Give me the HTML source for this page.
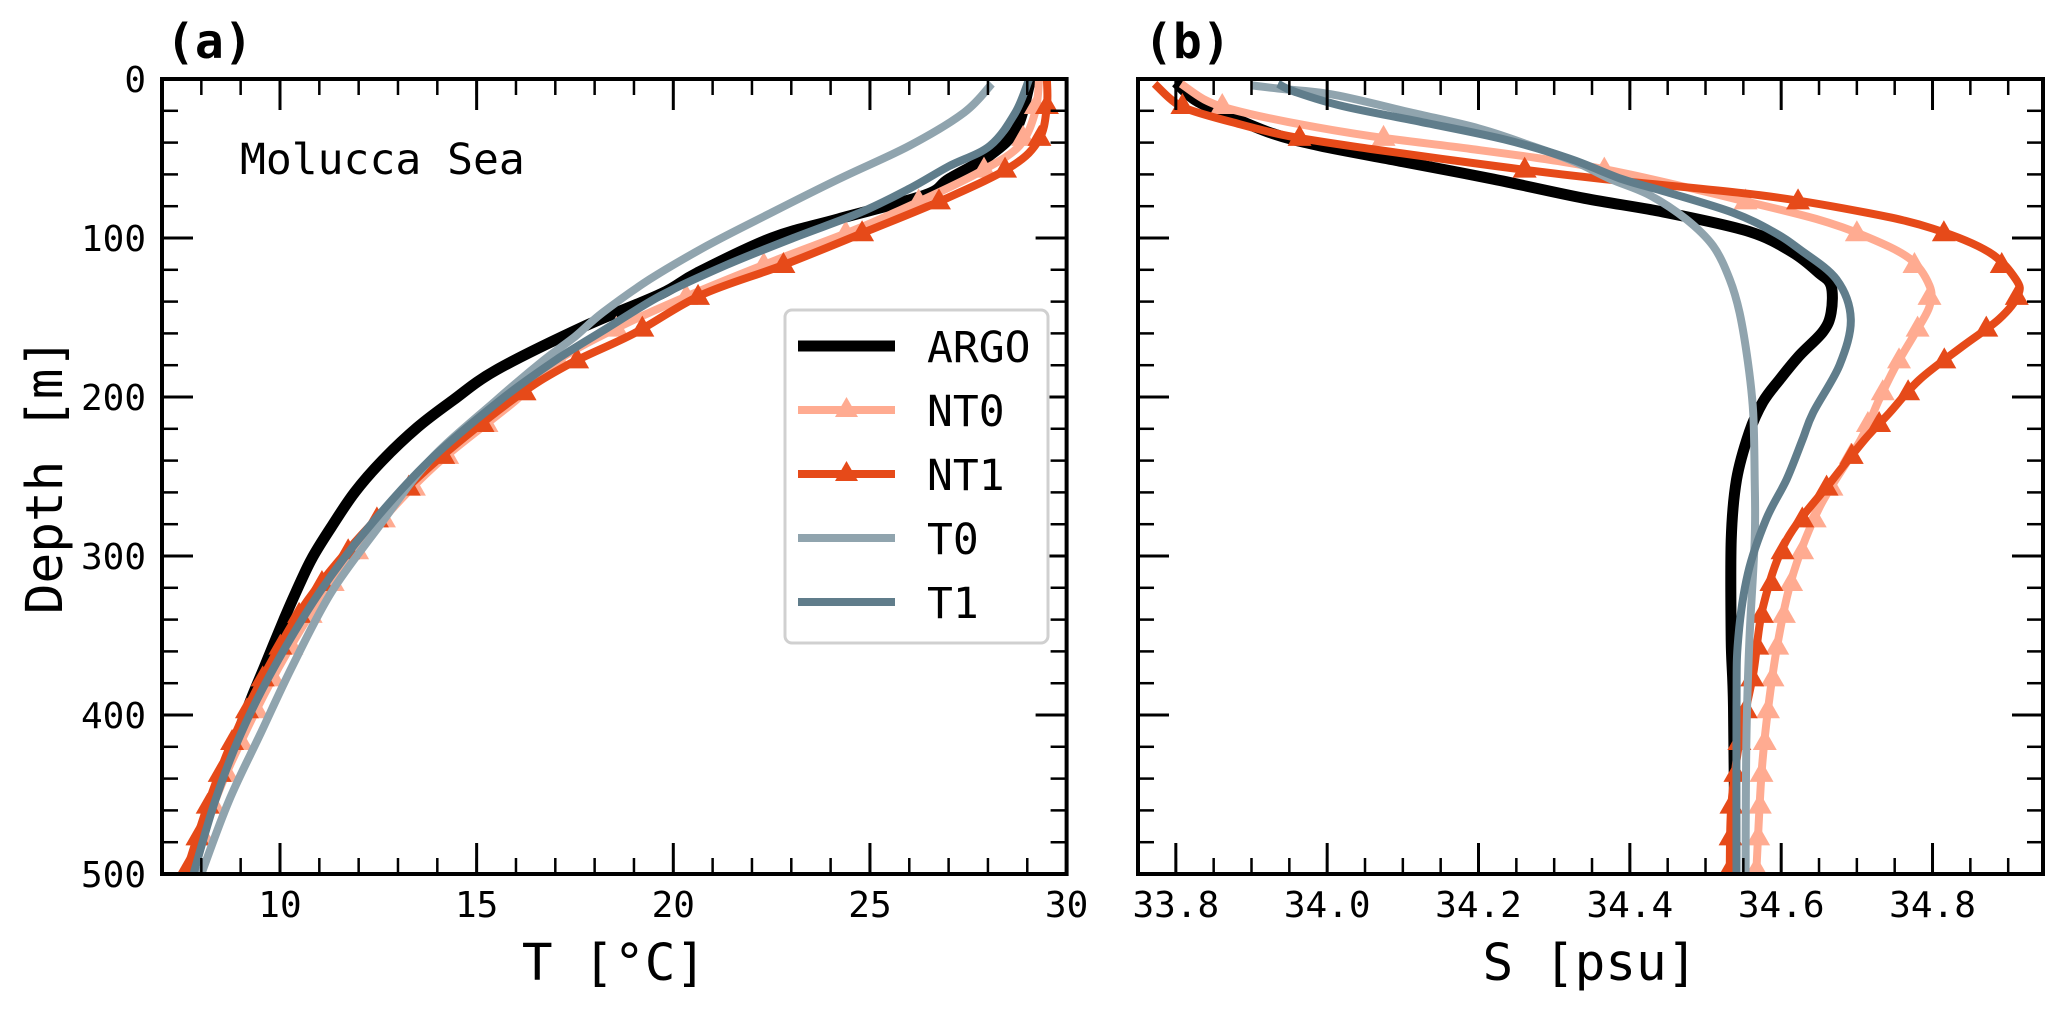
<!DOCTYPE html>
<html><head><meta charset="utf-8"><style>
html,body{margin:0;padding:0;background:#fff;}
svg{display:block;font-family:"DejaVu Sans Mono","Liberation Mono",monospace;}
</style></head><body>
<svg id="fig" width="2067" height="1009" viewBox="0 0 2067 1009" xmlns="http://www.w3.org/2000/svg">
<defs>
<clipPath id="clipA"><rect x="162" y="79" width="904.6" height="795"/></clipPath>
<clipPath id="clipB"><rect x="1138" y="79" width="905" height="795"/></clipPath>
</defs>
<g id="gA"></g>
<g id="gB"></g>
<text x="166" y="58" font-size="48" font-weight="bold">(a)</text>
<text x="1144" y="58" font-size="48" font-weight="bold">(b)</text>
<text x="240" y="174" font-size="43">Molucca Sea</text>
<text x="614" y="980" font-size="51" text-anchor="middle">T [°C]</text>
<text x="1590" y="980" font-size="51" text-anchor="middle">S [psu]</text>
<text x="62" y="476" font-size="51" text-anchor="middle" transform="rotate(-90 62 476)">Depth [m]</text>
<g>
<rect x="785" y="310" width="263" height="333" rx="7" fill="#fff" stroke="#d0d0d0" stroke-width="3"/>
<g><line x1="798" y1="346" x2="895" y2="346" stroke="#000" stroke-width="11"/><text x="927" y="362" font-size="43">ARGO</text></g>
<g><line x1="798" y1="410" x2="895" y2="410" stroke="#ffab91" stroke-width="8"/><path d="M846.5,397 L858,417 L835,417Z" fill="#ffab91"/><text x="927" y="426" font-size="43">NT0</text></g>
<g><line x1="798" y1="474" x2="895" y2="474" stroke="#e64a19" stroke-width="8"/><path d="M846.5,461 L858,481 L835,481Z" fill="#e64a19"/><text x="927" y="490" font-size="43">NT1</text></g>
<g><line x1="798" y1="538" x2="895" y2="538" stroke="#90a4ae" stroke-width="8"/><text x="927" y="554" font-size="43">T0</text></g>
<g><line x1="798" y1="602" x2="895" y2="602" stroke="#607d8b" stroke-width="8"/><text x="927" y="618" font-size="43">T1</text></g>
</g>
</svg>
<script>
// ---- Panel (a) temperature data ----
const argoT_d = [0,2,31,48,63,73,88,100,122,135,156,183,202,219,240,260,282,302,323,340,370,391,420,453,500];
const argoT   = [29.1,29.07,28.73,28.05,27.0,26.4,24.2,22.5,20.6,19.7,17.7,15.5,14.4,13.5,12.6,11.9,11.3,10.8,10.4,10.1,9.6,9.25,8.8,8.3,7.7];
const nt0T_d = [0,21,42,57,73,94,113,134,155,178,202,244,286,328,370,412,454,500];
const nt0T   = [29.3,29.2,28.8,27.9,26.6,24.7,22.7,20.6,18.7,17.0,16.0,13.9,12.3,11.0,9.97,9.1,8.35,7.76];
const nt1T_d = [0,17,38,55,75,96,117,136,160,180,202,244,286,328,370,412,454,500];
const nt1T   = [29.5,29.5,29.3,28.6,26.95,24.9,22.8,20.7,19.0,17.3,15.9,13.8,12.1,10.7,9.7,8.86,8.2,7.6];
const t0T_d = [3,21,42,63,84,105,126,147,162,177,202,240,282,323,370,412,454,500];
const t0T   = [28.1,27.4,26.0,24.2,22.5,20.85,19.4,18.2,17.5,16.7,15.5,13.8,12.5,11.3,10.3,9.5,8.7,8.0];
const t1T_d = [0,21,42,55,69,84,100,117,136,157,177,202,240,282,323,370,412,454,500];
const t1T   = [29.05,28.7,28.05,27.0,26.0,24.75,23.05,21.35,19.7,18.3,17.0,15.6,13.8,12.25,11.0,9.85,9.0,8.35,7.8];
// ---- Panel (b) salinity data ----
const argoS_d = [2,13,21,34,42,52,63,75,84,96,109,122,130,147,159,174,189,203,222,252,290,353,395,500];
const argoS   = [33.80,33.825,33.86,33.926,33.99,34.10,34.22,34.34,34.448,34.558,34.615,34.65,34.666,34.666,34.655,34.624,34.598,34.576,34.558,34.541,34.534,34.534,34.537,34.539];
const nt0S_d = [3,13,19,27,36,44,52,60,75,88,99,113,130,143,159,180,201,227,269,311,353,395,437,500];
const nt0S   = [33.807,33.838,33.873,33.948,34.058,34.19,34.31,34.40,34.536,34.646,34.712,34.77,34.796,34.796,34.778,34.752,34.73,34.705,34.651,34.616,34.596,34.583,34.574,34.567];
const nt1S_d = [3,13,19,27,36,44,55,63,73,84,94,109,126,136,151,168,189,210,227,252,290,332,374,416,458,500];
const nt1S   = [33.772,33.794,33.816,33.873,33.95,34.058,34.226,34.366,34.571,34.712,34.80,34.875,34.91,34.913,34.888,34.84,34.783,34.743,34.71,34.668,34.607,34.576,34.563,34.545,34.534,34.532];
const t0S_d = [4,6,10,21,31,42,52,63,73,88,105,126,147,178,210,252,290,353,416,500];
const t0S   = [33.90,33.935,34.01,34.11,34.20,34.27,34.327,34.375,34.426,34.474,34.51,34.532,34.545,34.556,34.563,34.565,34.565,34.558,34.554,34.553];
const t1S_d = [3,8,17,27,38,50,63,71,84,96,107,126,151,180,210,227,252,277,311,353,395,500];
const t1S   = [33.935,33.957,34.02,34.124,34.234,34.32,34.39,34.448,34.536,34.589,34.624,34.673,34.692,34.677,34.642,34.628,34.607,34.58,34.556,34.543,34.541,34.541];
// marker depths (model levels)
const markerDepths = [17,37,57,77,97,117,137,157,177,197,217,237,257,277,297,317,337,357,377,397,417,437,457,477,497];
// tick values
const tTicksMajor = [10,15,20,25,30];
const sTicksMajor = [33.8,34.0,34.2,34.4,34.6,34.8];
const sTickLabels = ["33.8","34.0","34.2","34.4","34.6","34.8"];
const dTicksMajor = [0,100,200,300,400,500];

const NS = "http://www.w3.org/2000/svg";
const TOP = 79, BOT = 874;
const yD = d => TOP + (d/500)*(BOT-TOP);
const xT = t => 162 + (t-7)/(30-7)*904.6;
const xS = s => 1138 + (s-33.75)/(34.946-33.75)*905;

function mk(tag, attrs, parent){ const e=document.createElementNS(NS,tag); for(const k in attrs) e.setAttribute(k,attrs[k]); parent.appendChild(e); return e; }
function interp(ds, vs, d){ if(d<=ds[0]) return vs[0]; for(let i=1;i<ds.length;i++){ if(d<=ds[i]){ const f=(d-ds[i-1])/(ds[i]-ds[i-1]); return vs[i-1]+f*(vs[i]-vs[i-1]); } } return vs[vs.length-1]; }
function smoothPath(P){
  let s = `M${P[0][0].toFixed(1)},${P[0][1].toFixed(1)}`;
  for(let i=0;i<P.length-1;i++){
    const p0=P[Math.max(0,i-1)], p1=P[i], p2=P[i+1], p3=P[Math.min(P.length-1,i+2)];
    const c1=[p1[0]+(p2[0]-p0[0])/6, p1[1]+(p2[1]-p0[1])/6];
    const c2=[p2[0]-(p3[0]-p1[0])/6, p2[1]-(p3[1]-p1[1])/6];
    s += ` C${c1[0].toFixed(1)},${c1[1].toFixed(1)} ${c2[0].toFixed(1)},${c2[1].toFixed(1)} ${p2[0].toFixed(1)},${p2[1].toFixed(1)}`;
  }
  return s;
}

function series(parent, clip, ds, vs, xf, color, w, name, markers){
  const g = mk('g',{'clip-path':'url(#'+clip+')'},parent);
  
  
  const P = ds.map((d,i)=>[xf(vs[i]), yD(d)]);
  const pl = mk('path',{d:smoothPath(P),fill:'none',stroke:color,'stroke-width':w,'stroke-linejoin':'round','stroke-linecap':'butt'},g);
  
  
  if(markers){
    markerDepths.forEach(md=>{
      const x=xf(interp(ds,vs,md)), y=yD(md);
      const p = mk('path',{d:`M${x},${y-13} L${x+12},${y+8} L${x-12},${y+8}Z`,fill:color},g);
      
      
    });
  }
}

function axes(parent, x0, x1, xf, majors, labels, minorFrom, minorTo, minorStep, showY){
  const g = mk('g',{},parent);
  
  
  for(let d=0; d<=500; d+=20){
    const y=yD(d), maj=(d%100===0), L=maj?31:16, sw=maj?3:2.5;
    mk('line',{x1:x0,y1:y,x2:x0+L,y2:y,stroke:'#000','stroke-width':sw},g);
    mk('line',{x1:x1,y1:y,x2:x1-L,y2:y,stroke:'#000','stroke-width':sw},g);
  }
  if(showY){
    dTicksMajor.forEach(d=>{
      const t = mk('text',{x:146,y:yD(d)+13,'font-size':36,'text-anchor':'end'},g);
      t.textContent = d;
      
      
    });
  }
  const nMin = Math.round((minorTo-minorFrom)/minorStep);
  for(let i=0;i<=nMin;i++){
    const v=minorFrom+i*minorStep, x=xf(v);
    if(x<x0+1||x>x1-1) continue;
    mk('line',{x1:x,y1:BOT,x2:x,y2:BOT-16,stroke:'#000','stroke-width':2.5},g);
    mk('line',{x1:x,y1:TOP,x2:x,y2:TOP+16,stroke:'#000','stroke-width':2.5},g);
  }
  majors.forEach((v,i)=>{
    const x=xf(v);
    if(x<x1-1){
      mk('line',{x1:x,y1:BOT,x2:x,y2:BOT-31,stroke:'#000','stroke-width':3},g);
      mk('line',{x1:x,y1:TOP,x2:x,y2:TOP+31,stroke:'#000','stroke-width':3},g);
    }
    const t = mk('text',{x:x,y:917,'font-size':36,'text-anchor':'middle'},g);
    t.textContent = labels[i];
    
    
  });
  mk('rect',{x:x0,y:TOP,width:x1-x0,height:BOT-TOP,fill:'none',stroke:'#000','stroke-width':4},g);
}

const gA=document.getElementById('gA'), gB=document.getElementById('gB');
series(gA,'clipA',argoT_d,argoT,xT,'#000',11,'argo-temperature',false);
series(gA,'clipA',nt0T_d,nt0T,xT,'#ffab91',8,'nt0-temperature',true);
series(gA,'clipA',nt1T_d,nt1T,xT,'#e64a19',8,'nt1-temperature',true);
series(gA,'clipA',t0T_d,t0T,xT,'#90a4ae',8,'t0-temperature',false);
series(gA,'clipA',t1T_d,t1T,xT,'#607d8b',8,'t1-temperature',false);
axes(gA,162,1066.6,xT,tTicksMajor,tTicksMajor.map(String),7,30,1,true);

series(gB,'clipB',argoS_d,argoS,xS,'#000',11,'argo-salinity',false);
series(gB,'clipB',nt0S_d,nt0S,xS,'#ffab91',8,'nt0-salinity',true);
series(gB,'clipB',nt1S_d,nt1S,xS,'#e64a19',8,'nt1-salinity',true);
series(gB,'clipB',t0S_d,t0S,xS,'#90a4ae',8,'t0-salinity',false);
series(gB,'clipB',t1S_d,t1S,xS,'#607d8b',8,'t1-salinity',false);
axes(gB,1138,2043,xS,sTicksMajor,sTickLabels,33.75,34.95,0.05,false);
</script>
</body></html>
